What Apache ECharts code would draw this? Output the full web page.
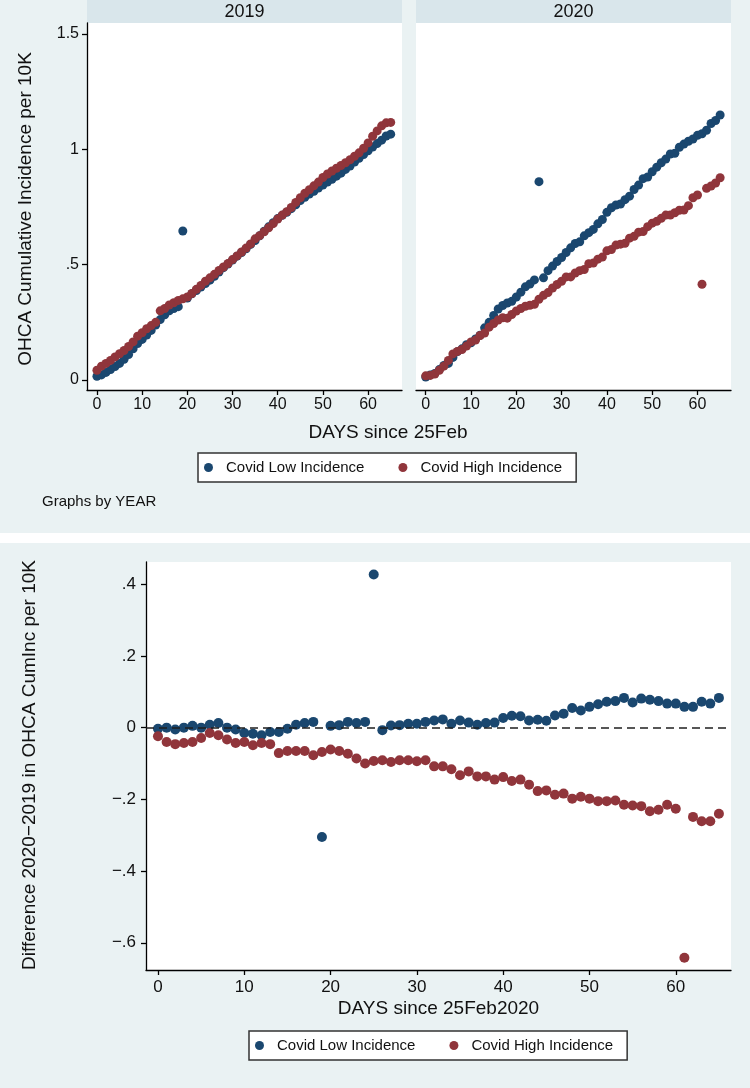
<!DOCTYPE html>
<html><head><meta charset="utf-8">
<script src="https://cdn.jsdelivr.net/npm/echarts@6/dist/echarts.min.js"></script>
<style>html,body{margin:0;padding:0;background:#eaf2f3}#c{width:750px;height:1088px}</style>
</head><body><div id="c"></div>
<script>
// ---- data ----
const days = [0,1,2,3,4,5,6,7,8,9,10,11,12,13,14,15,16,17,18,19,20,21,22,23,24,25,26,27,28,29,30,31,32,33,34,35,36,37,38,39,40,41,42,43,44,45,46,47,48,49,50,51,52,53,54,55,56,57,58,59,60,61,62,63,64,65];
const seriesNames = ['Covid Low Incidence', 'Covid High Incidence'];
const panelYears = ['2019', '2020'];

const low2019 = [0.016,0.022,0.033,0.045,0.058,0.072,0.090,0.110,0.135,0.158,
 0.176,0.195,0.215,0.238,0.262,0.283,0.300,0.310,0.318,0.646,
 0.355,0.374,0.388,0.403,0.418,0.433,0.450,0.468,0.487,0.503,
 0.520,0.537,0.553,0.569,0.588,0.605,0.625,0.645,0.664,0.682,
 0.700,0.714,0.727,0.743,0.760,0.778,0.792,0.806,0.818,0.832,
 0.845,0.858,0.870,0.884,0.897,0.913,0.928,0.945,0.961,0.978,
 0.994,1.010,1.025,1.040,1.058,1.066];
const high2019 = [0.042,0.060,0.072,0.085,0.100,0.114,0.128,0.145,0.165,0.190,
 0.205,0.222,0.236,0.250,0.300,0.310,0.325,0.335,0.345,0.352,
 0.360,0.375,0.393,0.410,0.428,0.443,0.458,0.475,0.490,0.505,
 0.522,0.538,0.555,0.572,0.590,0.612,0.626,0.643,0.660,0.678,
 0.698,0.715,0.730,0.748,0.770,0.790,0.810,0.825,0.842,0.858,
 0.878,0.893,0.906,0.918,0.930,0.942,0.955,0.970,0.985,1.005,
 1.028,1.057,1.080,1.102,1.115,1.117];
const low2020 = [0.013,0.022,0.028,0.045,0.063,0.072,0.098,0.123,0.135,0.153,
 0.161,0.178,0.194,0.226,0.250,0.280,0.308,0.323,0.334,0.341,
 0.360,0.381,0.404,0.416,0.434,0.860,0.443,0.474,0.494,0.514,
 0.531,0.553,0.573,0.592,0.599,0.625,0.639,0.653,0.677,0.696,
 0.727,0.747,0.759,0.763,0.782,0.797,0.826,0.845,0.873,0.880,
 0.903,0.923,0.942,0.958,0.980,0.983,1.009,1.023,1.035,1.045,
 1.061,1.068,1.083,1.112,1.125,1.149];
const high2020 = [0.018,0.020,0.026,0.042,0.060,0.085,0.113,0.124,0.132,0.147,
 0.165,0.173,0.193,0.204,0.229,0.245,0.260,0.270,0.268,0.284,
 0.299,0.310,0.320,0.324,0.328,0.350,0.367,0.379,0.399,0.414,
 0.428,0.447,0.447,0.464,0.474,0.479,0.504,0.507,0.524,0.533,
 0.560,0.566,0.585,0.589,0.593,0.615,0.623,0.641,0.644,0.665,
 0.680,0.688,0.701,0.715,0.715,0.725,0.736,0.737,0.756,0.790,
 0.802,0.415,0.831,0.841,0.854,0.877];
const diffLow = [-0.003,0.000,-0.005,0.000,0.005,0.000,0.008,0.013,0.000,-0.005,
 -0.015,-0.017,-0.021,-0.012,-0.012,-0.003,0.008,0.013,0.016,-0.305,
 0.005,0.007,0.016,0.013,0.016,0.427,-0.007,0.006,0.007,0.011,
 0.011,0.016,0.020,0.023,0.011,0.020,0.014,0.008,0.013,0.014,
 0.027,0.033,0.032,0.020,0.022,0.019,0.034,0.039,0.055,0.048,
 0.058,0.065,0.072,0.074,0.083,0.070,0.081,0.078,0.074,0.067,
 0.067,0.058,0.058,0.072,0.067,0.083];
const diffHigh = [-0.024,-0.040,-0.046,-0.043,-0.040,-0.029,-0.015,-0.021,-0.033,-0.043,
 -0.040,-0.049,-0.043,-0.046,-0.071,-0.065,-0.065,-0.065,-0.077,-0.068,
 -0.061,-0.065,-0.073,-0.086,-0.100,-0.093,-0.091,-0.096,-0.091,-0.091,
 -0.094,-0.091,-0.108,-0.108,-0.116,-0.133,-0.122,-0.136,-0.136,-0.145,
 -0.138,-0.149,-0.145,-0.159,-0.177,-0.175,-0.187,-0.184,-0.198,-0.193,
 -0.198,-0.205,-0.205,-0.203,-0.215,-0.217,-0.219,-0.233,-0.229,-0.215,
 -0.226,-0.642,-0.249,-0.261,-0.261,-0.240];

const xTicks = [0,10,20,30,40,50,60];
const yTicksTop = [0,0.5,1,1.5];
const yTicksBottom = [-0.6,-0.4,-0.2,0,0.2,0.4];

// ---- style ----
const FF = "'Liberation Sans', Arial, Helvetica, sans-serif";
const NAVY = '#1a476f', MAROON = '#90353b';
const stataFmt = v => {
  if (Math.abs(v) < 1e-9) return '0';
  let s = String(+v.toFixed(3));
  s = s.replace(/^0\./, '.').replace(/^-0\./, '\u2212.').replace(/^-/, '\u2212');
  return s;
};
const zip = (xs, ys) => xs.map((x, i) => [x, ys[i]]);

function xAxisCfg(gi, min, max, fs, margin) {
  return {
    type: 'value', gridIndex: gi, min: min, max: max,
    axisLine: { show: true, onZero: false, lineStyle: { color: '#000', width: 1.3 } },
    axisTick: { show: true, length: 5, customValues: xTicks, lineStyle: { color: '#000', width: 1.3 } },
    axisLabel: { customValues: xTicks, fontSize: fs, fontFamily: FF, color: '#111', margin: margin, formatter: stataFmt },
    splitLine: { show: false }
  };
}
function yAxisCfg(gi, min, max, ticks, fs, margin, show) {
  return {
    type: 'value', gridIndex: gi, min: min, max: max,
    axisLine: { show: show, onZero: false, lineStyle: { color: '#000', width: 1.3 } },
    axisTick: { show: show, length: 5, customValues: ticks, lineStyle: { color: '#000', width: 1.3 } },
    axisLabel: { show: show, customValues: ticks, fontSize: fs, fontFamily: FF, color: '#111', margin: margin, formatter: stataFmt },
    splitLine: { show: false }
  };
}
function legendCfg(left, top) {
  return {
    left: left, top: top, orient: 'horizontal', itemGap: 34, itemWidth: 9, itemHeight: 9,
    icon: 'circle', backgroundColor: '#fff', borderColor: '#333', borderWidth: 1.5, borderRadius: 0,
    padding: [7, 14, 7, 6], selectedMode: false,
    textStyle: { fontSize: 15, fontFamily: FF, color: '#111', padding: [0, 0, 0, 8] },
    data: seriesNames
  };
}
function scat(name, xi, data, color, size) {
  return { type: 'scatter', name: name, xAxisIndex: xi, yAxisIndex: xi, data: data,
    symbol: 'circle', symbolSize: size, itemStyle: { color: color, opacity: 1 }, z: 3, silent: true };
}

const chart = echarts.init(document.getElementById('c'), null, { renderer: 'canvas' });
const option = {
  backgroundColor: '#eaf2f3',
  animation: false,
  grid: [
    { left: 87, top: 23, width: 315, height: 367, show: true, backgroundColor: '#fff', borderWidth: 0 },
    { left: 416, top: 23, width: 315, height: 367, show: true, backgroundColor: '#fff', borderWidth: 0 },
    { left: 146, top: 562, width: 585, height: 408, show: true, backgroundColor: '#fff', borderWidth: 0 }
  ],
  xAxis: [
    xAxisCfg(0, -2.2, 67.5, 16, 7),
    xAxisCfg(1, -2.15, 67.4, 16, 7),
    xAxisCfg(2, -1.39, 66.4, 17, 9)
  ],
  yAxis: [
    yAxisCfg(0, -0.0434, 1.548, yTicksTop, 16, 8, true),
    yAxisCfg(1, -0.0434, 1.548, yTicksTop, 16, 8, false),
    yAxisCfg(2, -0.676, 0.462, yTicksBottom, 17, 10, true)
  ],
  legend: [legendCfg(198, 453), legendCfg(249, 1031)],
  graphic: [
    { type: 'rect', shape: { x: 0, y: 533, width: 750, height: 10 }, style: { fill: '#fff' }, silent: true },
    { type: 'rect', shape: { x: 87, y: 0, width: 315, height: 23 }, style: { fill: '#d9e6eb' }, silent: true },
    { type: 'rect', shape: { x: 416, y: 0, width: 315, height: 23 }, style: { fill: '#d9e6eb' }, silent: true },
    { type: 'text', x: 244.5, y: 12, style: { text: panelYears[0], fontSize: 18, fontFamily: FF, fill: '#111', align: 'center', verticalAlign: 'middle' } },
    { type: 'text', x: 573.5, y: 12, style: { text: panelYears[1], fontSize: 18, fontFamily: FF, fill: '#111', align: 'center', verticalAlign: 'middle' } },
    { type: 'text', x: 26, y: 209, rotation: Math.PI / 2, style: { text: 'OHCA Cumulative Incidence per 10K', fontSize: 19, fontFamily: FF, fill: '#111', align: 'center', verticalAlign: 'middle' } },
    { type: 'text', x: 388, y: 433, style: { text: 'DAYS since 25Feb', fontSize: 19, fontFamily: FF, fill: '#111', align: 'center', verticalAlign: 'middle' } },
    { type: 'text', x: 42, y: 502, style: { text: 'Graphs by YEAR', fontSize: 15, fontFamily: FF, fill: '#111', align: 'left', verticalAlign: 'middle' } },
    { type: 'text', x: 30, y: 765, rotation: Math.PI / 2, style: { text: 'Difference 2020\u22122019 in OHCA CumInc per 10K', fontSize: 19, fontFamily: FF, fill: '#111', align: 'center', verticalAlign: 'middle' } },
    { type: 'text', x: 438.5, y: 1009, style: { text: 'DAYS since 25Feb2020', fontSize: 19, fontFamily: FF, fill: '#111', align: 'center', verticalAlign: 'middle' } }
  ],
  series: [
    scat(seriesNames[0], 0, zip(days, low2019), NAVY, 9),
    scat(seriesNames[1], 0, zip(days, high2019), MAROON, 9),
    scat(seriesNames[0], 1, zip(days, low2020), NAVY, 9),
    scat(seriesNames[1], 1, zip(days, high2020), MAROON, 9),
    { type: 'line', xAxisIndex: 2, yAxisIndex: 2, data: [], z: 1, silent: true,
      markLine: { silent: true, symbol: ['none', 'none'], label: { show: false },
        lineStyle: { type: [8, 5], color: '#1f1f1f', width: 1.5 }, data: [{ yAxis: 0 }] } },
    scat(seriesNames[0], 2, zip(days, diffLow), NAVY, 10),
    scat(seriesNames[1], 2, zip(days, diffHigh), MAROON, 10)
  ]
};
chart.setOption(option);
</script>
</body></html>
